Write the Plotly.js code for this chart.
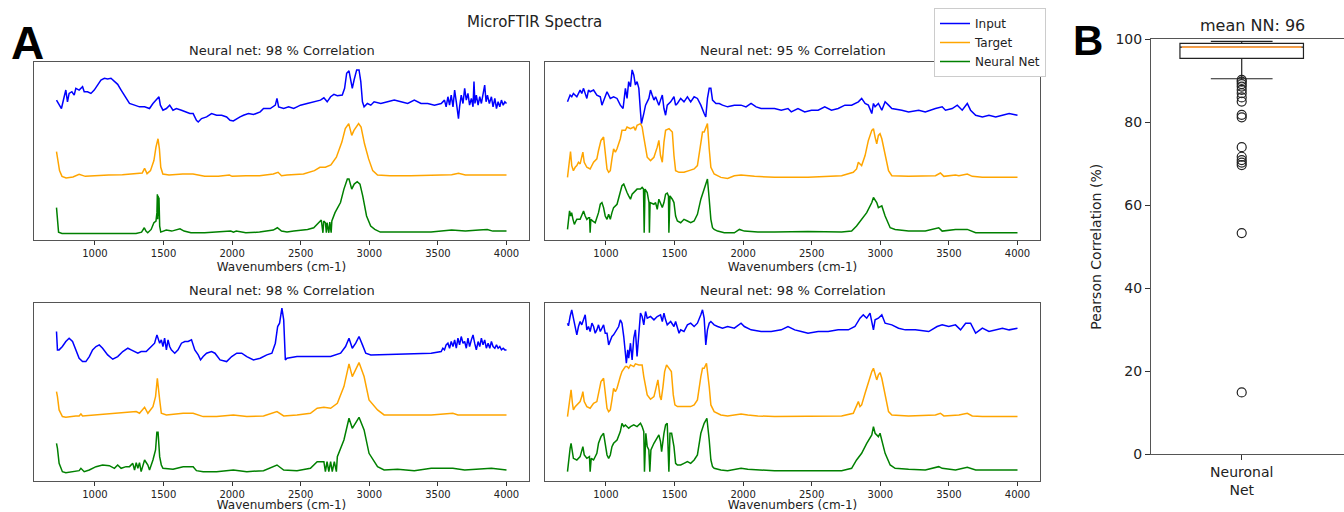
<!DOCTYPE html>
<html>
<head>
<meta charset="utf-8">
<script src="https://cdn.plot.ly/plotly-3.0.1.min.js"></script>
<style>html,body{margin:0;padding:0;background:#fff;}#chart{width:1344px;height:512px;}</style>
</head>
<body>
<div id="chart"></div>
<script>
// ---------- Panel A: spectra (wavenumber in cm-1, absorbance in a.u. with vertical offsets) ----------
// Top-left panel (98 % correlation)
const tlInputWn = [720,739,756,776,788,800,812,832,849,861,885,910,922,946,971,995,1020,1044,1069,1093,1117,1142,1166,1191,1227,1252,1289,1325,1362,1398,1423,1447,1467,1477,1496,1521,1545,1569,1594,1631,1667,1692,1716,1740,1753,1777,1814,1850,1887,1924,1960,1985,2009,2034,2058,2083,2119,2156,2205,2229,2278,2315,2327,2339,2376,2412,2449,2473,2498,2547,2595,2644,2669,2693,2718,2742,2767,2803,2820,2835,2852,2864,2876,2889,2908,2925,2938,2950,2962,2986,3011,3035,3084,3133,3182,3231,3280,3328,3377,3426,3475,3524,3548,3560,3573,3585,3597,3610,3622,3634,3641,3650,3658,3670,3683,3695,3707,3719,3731,3744,3756,3763,3770,3780,3793,3805,3817,3829,3841,3851,3861,3875,3890,3902,3915,3927,3939,3951,3963,3976,3988,4000];
const tlInputAbs = [415,400,390,425,445,410,435,440,430,450,445,455,440,440,435,445,460,475,480,478,480,470,462,445,420,405,400,395,395,390,405,415,425,400,385,390,400,385,390,385,380,375,375,355,350,360,365,375,370,370,365,355,353,360,365,370,375,372,380,390,390,400,420,395,390,395,390,395,400,405,410,415,422,410,425,432,428,430,450,495,502,475,450,475,505,505,470,410,395,405,400,410,405,410,415,410,405,415,405,405,400,405,415,395,425,400,430,395,445,410,385,360,395,430,405,450,415,435,400,420,395,470,405,430,400,425,405,440,460,410,430,405,425,395,420,390,410,395,415,400,410,405];
const tlTargetWn = [720,730,742,760,790,840,885,930,1000,1100,1200,1300,1345,1362,1380,1405,1430,1445,1460,1470,1480,1495,1540,1640,1715,1800,1900,1980,2000,2100,2200,2300,2335,2360,2400,2520,2600,2640,2680,2720,2760,2800,2825,2850,2872,2888,2922,2940,2965,2995,3025,3060,3150,3300,3450,3600,3650,3700,3850,4000];
const tlTargetAbs = [262,230,205,188,183,186,194,188,190,192,193,195,198,212,196,205,235,275,300,270,215,195,192,195,195,188,188,192,188,190,190,195,200,190,192,195,205,215,215,222,245,290,330,345,310,325,345,335,285,240,205,192,190,190,192,193,197,192,192,192];
const tlNetWn = [720,728,735,760,900,1100,1300,1340,1360,1372,1385,1410,1430,1445,1452,1455,1458,1461,1464,1467,1472,1480,1520,1560,1620,1650,1700,1800,1900,1990,2010,2030,2100,2200,2300,2330,2360,2400,2450,2500,2550,2595,2630,2650,2662,2668,2680,2687,2692,2705,2712,2722,2727,2750,2790,2815,2840,2852,2872,2890,2912,2932,2952,2980,3010,3040,3080,3200,3300,3450,3600,3700,3800,3860,3900,4000];
const tlNetAbs = [95,60,22,18,18,18,18,22,35,25,20,30,50,55,80,135,60,130,70,125,40,22,28,25,32,25,20,20,22,25,22,25,20,22,28,35,25,22,25,28,30,35,50,58,20,55,50,20,50,20,52,20,55,80,110,150,180,180,150,165,172,165,130,70,40,30,22,22,20,22,28,25,28,30,25,25];

// Top-right panel (95 % correlation)
const trInputWn = [720,727,739,751,763,788,812,824,837,861,873,885,910,934,959,971,995,1008,1032,1056,1081,1105,1125,1142,1154,1166,1179,1191,1203,1215,1227,1240,1252,1259,1276,1289,1313,1325,1337,1350,1362,1386,1398,1411,1423,1435,1447,1472,1496,1508,1521,1545,1569,1594,1618,1643,1667,1692,1716,1728,1740,1753,1765,1777,1802,1826,1850,1887,1936,1985,2021,2058,2095,2131,2180,2229,2278,2327,2351,2400,2449,2498,2547,2595,2644,2693,2742,2791,2840,2864,2889,2913,2938,2950,2962,2986,3011,3035,3060,3084,3157,3206,3280,3328,3402,3451,3475,3524,3561,3597,3634,3658,3695,3744,3792,3841,3890,3939,4000];
const trInputAbs = [410,420,430,425,435,425,445,435,450,420,445,440,445,430,425,400,425,440,420,425,420,400,390,450,420,470,455,505,490,460,470,450,380,345,375,400,420,445,430,415,425,400,415,430,390,370,400,410,425,400,405,420,410,425,410,425,420,400,375,365,420,450,450,415,405,405,400,395,400,400,395,405,395,390,390,390,385,390,380,390,380,385,385,395,385,390,400,400,410,420,405,400,375,405,395,405,385,410,400,390,385,380,385,380,390,395,385,390,400,385,405,385,370,365,370,365,370,375,370];
const trTargetWn = [720,727,742,751,763,776,788,800,812,832,842,861,885,910,934,946,964,983,995,1008,1020,1032,1044,1056,1069,1081,1105,1117,1142,1154,1179,1203,1215,1227,1252,1264,1276,1289,1301,1325,1350,1374,1386,1398,1411,1423,1435,1460,1484,1496,1508,1533,1569,1606,1643,1667,1692,1704,1716,1728,1740,1753,1765,1789,1838,1887,1936,1985,2034,2083,2229,2473,2718,2803,2827,2840,2852,2864,2889,2913,2938,2950,2962,2974,2986,2998,3011,3035,3060,3084,3206,3402,3438,3463,3548,3573,3634,3670,3744,4000];
const trTargetAbs = [185,210,262,220,205,215,220,230,225,260,230,215,210,230,240,265,295,305,260,210,200,205,240,270,260,270,300,325,325,335,330,335,325,340,345,335,305,270,245,235,245,275,295,250,230,290,325,330,320,250,205,200,200,205,210,220,280,320,320,330,345,270,215,195,185,182,190,192,190,188,185,185,190,200,210,230,225,220,250,295,325,330,305,285,310,315,300,250,205,190,188,190,198,188,192,190,195,188,185,185];
const trNetWn = [720,728,735,743,750,760,770,781,788,812,824,837,849,861,873,881,885,890,905,922,946,959,971,983,995,1008,1020,1032,1044,1056,1081,1105,1117,1130,1142,1154,1166,1179,1191,1203,1227,1252,1264,1274,1279,1285,1301,1314,1317,1322,1350,1362,1374,1386,1398,1411,1423,1435,1447,1456,1459,1467,1484,1496,1508,1521,1545,1569,1594,1618,1643,1667,1692,1716,1728,1740,1753,1765,1777,1789,1814,1863,1936,1973,2009,2107,2229,2473,2718,2791,2827,2864,2901,2938,2950,2974,2986,3011,3035,3072,3108,3206,3328,3426,3451,3548,3634,3695,4000];
const trNetAbs = [30,70,85,70,80,60,45,55,60,60,70,85,70,60,65,65,20,60,55,50,80,105,110,95,70,60,75,60,80,95,105,140,160,165,150,140,130,120,135,140,150,150,155,150,20,150,140,110,20,110,105,110,90,120,105,95,110,135,138,130,20,130,120,110,70,55,50,60,55,50,55,75,120,150,170,180,120,60,35,30,25,20,20,30,25,22,22,24,22,25,40,60,80,110,125,110,95,100,70,35,30,25,25,35,25,30,30,20,20];

// Bottom-left panel (98 % correlation)
const blInputWn = [720,727,739,763,788,812,837,861,885,910,934,959,983,1008,1032,1056,1093,1130,1166,1203,1240,1264,1289,1313,1337,1374,1411,1435,1452,1462,1472,1484,1496,1508,1521,1533,1545,1557,1582,1606,1631,1655,1679,1704,1716,1728,1753,1770,1789,1814,1850,1875,1912,1960,1997,2034,2070,2107,2156,2205,2253,2290,2315,2332,2346,2356,2363,2376,2388,2400,2473,2595,2718,2791,2827,2852,2876,2901,2925,2950,2974,3011,3206,3451,3524,3536,3548,3560,3573,3585,3597,3610,3622,3634,3646,3658,3670,3683,3695,3707,3719,3731,3744,3756,3768,3780,3793,3805,3817,3829,3841,3853,3866,3878,3890,3902,3915,3927,3939,3951,3963,3976,3988,4000];
const blInputAbs = [448,393,393,403,418,428,418,393,368,358,358,373,393,403,408,398,378,365,373,388,398,393,388,383,388,388,403,413,438,428,413,423,403,428,393,423,403,393,383,393,413,418,418,423,408,393,378,363,373,383,388,383,363,358,373,383,383,373,363,368,378,383,413,463,473,503,518,483,363,368,373,373,373,383,403,428,398,413,433,408,383,378,381,383,388,398,393,408,413,398,418,403,423,398,428,408,433,413,418,398,428,403,423,438,413,393,418,403,428,408,423,398,413,398,418,403,398,408,398,403,393,398,393,393];
const blTargetWn = [720,727,739,763,788,812,861,885,898,910,1008,1130,1252,1301,1325,1362,1386,1423,1442,1455,1472,1484,1521,1643,1716,1789,1887,2009,2107,2229,2327,2376,2473,2571,2620,2669,2718,2767,2815,2852,2876,2925,2962,2998,3060,3108,3206,3451,3609,3646,4000];
const blTargetAbs = [268,253,213,193,191,193,195,195,201,195,198,201,205,208,203,221,203,223,253,308,243,203,198,203,203,193,193,198,193,195,208,195,198,203,218,221,218,233,283,351,313,355,313,243,213,198,198,198,203,198,198];
const blNetWn = [720,727,739,763,788,837,885,898,922,959,1008,1056,1105,1142,1166,1191,1227,1252,1276,1289,1301,1313,1325,1337,1362,1386,1398,1423,1442,1452,1455,1460,1465,1472,1484,1496,1569,1643,1716,1740,1789,1887,2009,2107,2229,2327,2376,2473,2571,2620,2669,2680,2692,2705,2718,2730,2745,2760,2767,2815,2852,2876,2925,2962,2998,3060,3108,3206,3328,3451,3609,3695,3890,4000];
const blNetAbs = [113,98,53,28,25,28,31,38,28,33,43,48,46,38,48,38,43,43,53,33,55,38,55,28,63,48,33,63,93,148,140,148,120,73,48,38,35,43,43,31,28,28,33,28,31,48,33,31,38,58,58,28,58,28,58,28,58,28,73,123,188,158,191,153,83,43,33,35,31,38,38,33,38,33];

// Bottom-right panel (98 % correlation)
const brInputWn = [720,727,739,751,763,776,788,800,812,824,837,849,861,873,885,898,910,922,934,946,959,971,983,995,1008,1020,1032,1044,1056,1069,1081,1093,1105,1117,1130,1142,1149,1159,1166,1179,1191,1203,1215,1227,1240,1252,1264,1276,1289,1301,1325,1350,1374,1398,1411,1423,1435,1447,1472,1496,1508,1521,1533,1545,1569,1594,1618,1643,1667,1692,1704,1716,1728,1740,1753,1765,1789,1814,1850,1887,1936,1985,2009,2058,2131,2205,2278,2327,2376,2424,2473,2547,2620,2693,2767,2815,2852,2876,2901,2925,2950,2962,2986,3011,3035,3084,3133,3182,3255,3353,3414,3451,3499,3548,3585,3622,3658,3695,3744,3792,3841,3890,3939,4000];
const brInputAbs = [473,465,493,513,488,458,438,463,478,468,483,498,453,463,448,473,463,443,453,468,448,458,468,443,443,408,423,433,438,448,458,463,483,473,433,393,353,393,368,413,363,428,453,373,448,503,493,468,508,488,493,483,493,498,478,503,483,468,478,463,478,463,443,453,448,468,473,463,473,498,513,488,408,453,473,478,468,463,458,463,458,473,463,453,448,448,453,463,453,448,443,448,448,453,453,463,488,498,488,503,453,483,488,498,473,468,458,453,453,448,463,468,463,468,453,473,473,443,458,448,453,458,453,458];
const brTargetWn = [720,727,739,746,756,763,776,788,800,812,824,832,842,861,885,910,934,946,964,983,995,1008,1020,1032,1044,1056,1069,1081,1105,1117,1142,1154,1166,1179,1203,1215,1240,1264,1276,1289,1301,1325,1350,1362,1379,1394,1403,1416,1428,1442,1460,1477,1491,1503,1521,1569,1618,1643,1667,1692,1704,1716,1733,1753,1765,1789,1838,1887,1936,1985,2034,2107,2229,2473,2718,2803,2827,2840,2852,2864,2889,2913,2938,2950,2962,2974,2986,2998,3011,3035,3060,3084,3206,3402,3438,3463,3548,3573,3634,3670,3744,4000];
const brTargetAbs = [193,213,253,273,233,213,223,228,233,238,253,268,238,223,218,233,238,263,298,308,258,218,208,213,243,278,268,278,313,328,343,343,338,348,343,351,348,348,313,278,258,245,253,273,303,253,243,283,328,348,338,328,258,228,223,223,223,228,243,313,338,338,353,283,228,208,198,195,198,201,198,195,193,193,195,203,228,238,223,228,263,298,328,338,318,303,318,325,308,253,208,198,195,198,203,195,198,198,203,195,193,193];
const brNetWn = [720,727,739,746,756,763,788,812,832,842,861,880,885,893,910,934,946,964,983,995,1008,1020,1032,1044,1056,1081,1105,1117,1130,1142,1166,1179,1203,1227,1252,1264,1276,1281,1291,1301,1313,1320,1328,1350,1374,1386,1398,1406,1423,1435,1447,1459,1467,1479,1496,1508,1521,1545,1569,1594,1618,1643,1667,1692,1716,1736,1753,1765,1777,1789,1838,1887,1985,2034,2229,2473,2718,2791,2827,2864,2901,2938,2950,2962,2986,2998,3011,3035,3072,3108,3206,3328,3426,3451,3548,3634,3695,4000];
const brNetAbs = [28,63,98,113,83,68,63,73,103,78,68,73,28,68,63,83,113,133,143,103,78,68,78,103,113,123,148,173,163,168,158,163,168,163,173,163,148,28,143,103,93,28,93,113,133,138,118,88,143,168,173,28,143,143,103,53,48,48,53,58,53,63,78,143,173,188,123,63,43,38,33,31,38,35,31,31,31,38,63,83,113,138,163,143,133,143,123,83,48,38,35,33,43,38,33,41,33,33];

// ---------- Panel B: Pearson correlation box plot ----------
const boxCategory = 'Neuronal<br>Net';
const boxQ1 = 95.4, boxMedian = 98.1, boxQ3 = 99.0, boxLowFence = 90.5, boxHighFence = 99.5;
const boxOutliers = [90.2,89.8,89.2,88.6,87.8,87.0,86.0,85.0,81.8,81.2,74.0,71.7,70.9,70.3,69.7,53.3,14.9];
const meanNN = 96;

const panelTitles = ['Neural net: 98 % Correlation','Neural net: 95 % Correlation','Neural net: 98 % Correlation','Neural net: 98 % Correlation'];
const wnTicks = [1000,1500,2000,2500,3000,3500,4000];

// ---------- build ----------
const FONT = 'DejaVu Sans, Verdana, sans-serif';
const TXT = '#222';
const colors = {input:'#0000ff', target:'#ffa500', net:'#008000'};
const panels = [
  {x:'x', y:'y', data:[[tlInputWn,tlInputAbs],[tlTargetWn,tlTargetAbs],[tlNetWn,tlNetAbs]]},
  {x:'x2', y:'y2', data:[[trInputWn,trInputAbs],[trTargetWn,trTargetAbs],[trNetWn,trNetAbs]]},
  {x:'x3', y:'y3', data:[[blInputWn,blInputAbs],[blTargetWn,blTargetAbs],[blNetWn,blNetAbs]]},
  {x:'x4', y:'y4', data:[[brInputWn,brInputAbs],[brTargetWn,brTargetAbs],[brNetWn,brNetAbs]]}
];
const names = ['Input','Target','Neural Net'];
const cols = [colors.input, colors.target, colors.net];
const traces = [];
panels.forEach((p, pi) => {
  p.data.forEach((d, si) => {
    traces.push({type:'scatter', mode:'lines', x:d[0], y:d[1], xaxis:p.x, yaxis:p.y,
      name:names[si], legendgroup:names[si], showlegend: pi === 0,
      line:{color:cols[si], width:1.5}, hoverinfo:'skip'});
  });
});
traces.push({type:'box', x:[boxCategory], q1:[boxQ1], median:[boxMedian], q3:[boxQ3],
  lowerfence:[boxLowFence], upperfence:[boxHighFence], xaxis:'x5', yaxis:'y5',
  fillcolor:'rgba(255,255,255,0)', line:{color:'#222', width:1.2}, width:0.64, whiskerwidth:0.5,
  boxpoints:false, showlegend:false, hoverinfo:'skip'});
traces.push({type:'box', x:[boxCategory], q1:[boxMedian], median:[boxMedian], q3:[boxMedian],
  lowerfence:[boxMedian], upperfence:[boxMedian], xaxis:'x5', yaxis:'y5',
  fillcolor:'rgba(255,255,255,0)', line:{color:'#ff9f40', width:1.8}, width:0.62, whiskerwidth:0,
  boxpoints:false, showlegend:false, hoverinfo:'skip'});
traces.push({type:'scatter', mode:'markers', x:boxOutliers.map(() => boxCategory), y:boxOutliers,
  xaxis:'x5', yaxis:'y5', showlegend:false, hoverinfo:'skip',
  marker:{symbol:'circle-open', size:9, color:'#222', line:{width:1.2, color:'#222'}}});

const W = 1344, H = 512;
const px = v => v / W, py = v => 1 - v / H;
const xdomL = [px(34), px(529)], xdomR = [px(545), px(1040)];
const ydomT = [py(239.5), py(61.5)], ydomB = [py(481), py(302.5)];
function specX(dom, anchor) {
  return {domain:dom, anchor:anchor, range:[556,4164], tickvals:wnTicks, ticks:'outside', ticklen:4,
    tickcolor:'#333', tickwidth:1, showline:true, mirror:true, linecolor:'#555', linewidth:1,
    showgrid:false, zeroline:false, tickfont:{family:FONT, size:10, color:TXT},
    title:{text:'Wavenumbers (cm-1)', font:{family:FONT, size:12, color:TXT}, standoff:5}};
}
function specY(dom, anchor, top) {
  return {domain:dom, anchor:anchor, range:[0, top], showticklabels:false, ticks:'',
    showline:true, mirror:true, linecolor:'#555', linewidth:1, showgrid:false, zeroline:false};
}
const ann = [];
const centers = [(34+529)/2, (545+1040)/2];
[[centers[0],50],[centers[1],50],[centers[0],290],[centers[1],290]].forEach((c, i) => {
  ann.push({text:panelTitles[i], xref:'paper', yref:'paper', x:px(c[0]), y:py(c[1]), xanchor:'center', yanchor:'middle',
    showarrow:false, font:{family:FONT, size:13, color:TXT}});
});
ann.push({text:'MicroFTIR Spectra', xref:'paper', yref:'paper', x:px(534), y:py(22), xanchor:'center', yanchor:'middle',
  showarrow:false, font:{family:FONT, size:15, color:TXT}});
ann.push({text:'<b>A</b>', xref:'paper', yref:'paper', x:px(27), y:py(43), xanchor:'center', yanchor:'middle',
  showarrow:false, font:{family:'Liberation Sans, Arial, sans-serif', size:46, color:'#000'}});
ann.push({text:'<b>B</b>', xref:'paper', yref:'paper', x:px(1088), y:py(40), xanchor:'center', yanchor:'middle',
  showarrow:false, font:{family:'Liberation Sans, Arial, sans-serif', size:42, color:'#000'}});
ann.push({text:'mean NN: ' + meanNN, xref:'paper', yref:'paper', x:px(1252), y:py(25), xanchor:'center', yanchor:'middle',
  showarrow:false, font:{family:FONT, size:16, color:TXT}});

const layout = {
  width:W, height:H, margin:{l:0, r:0, t:0, b:0}, paper_bgcolor:'#fff', plot_bgcolor:'#fff',
  showlegend:true, boxmode:'overlay',
  legend:{x:px(934), y:py(8), xanchor:'left', yanchor:'top', bgcolor:'#fff', bordercolor:'#ccc', borderwidth:1,
    font:{family:FONT, size:12, color:TXT}, tracegroupgap:0},
  xaxis:specX(xdomL,'y'), yaxis:specY(ydomT,'x',530),
  xaxis2:specX(xdomR,'y2'), yaxis2:specY(ydomT,'x2',530),
  xaxis3:specX(xdomL,'y3'), yaxis3:specY(ydomB,'x3',535),
  xaxis4:specX(xdomR,'y4'), yaxis4:specY(ydomB,'x4',535),
  xaxis5:{domain:[px(1151), 1], anchor:'y5', type:'category', range:[-0.47, 0.53], ticks:'outside', ticklen:5,
    tickcolor:'#333', showline:true, mirror:true, linecolor:'#555', linewidth:1, showgrid:false, zeroline:false,
    tickfont:{family:FONT, size:14, color:TXT}},
  yaxis5:{domain:[py(454.3), py(39.3)], anchor:'x5', range:[0,100], tickvals:[0,20,40,60,80,100], ticks:'outside',
    ticklen:5, tickcolor:'#333', showline:true, mirror:false, linecolor:'#555', linewidth:1, showgrid:false, zeroline:false,
    tickfont:{family:FONT, size:14, color:TXT},
    title:{text:'Pearson Correlation (%)', font:{family:FONT, size:14, color:TXT}, standoff:10}},
  annotations:ann
};
Plotly.newPlot('chart', traces, layout, {displayModeBar:false, staticPlot:true});
</script>
</body>
</html>
